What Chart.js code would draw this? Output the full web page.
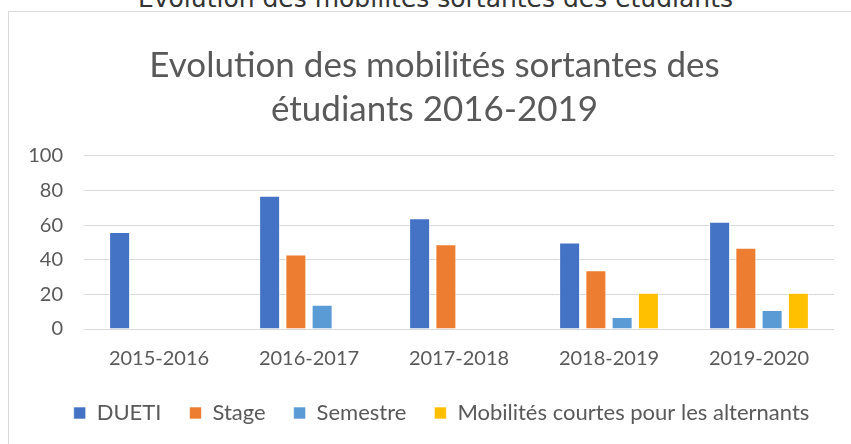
<!DOCTYPE html>
<html>
<head>
<meta charset="utf-8">
<script src="https://cdn.jsdelivr.net/npm/chart.js@4.4.1/dist/chart.umd.min.js"></script>
<style>
    html, body { margin: 0; padding: 0; background: #fff; overflow: hidden; }
    #wrap { position: relative; width: 851px; height: 444px; }
    #frame { position: absolute; left: 8px; top: 11px; width: 860px; height: 460px; border: 1px solid #d9d9d9; box-sizing: border-box; }
    #caption { position: absolute; left: 10px; width: 851px; top: -14px; text-align: center; font-family: 'DejaVu Sans'; font-size: 25px; line-height: 26px; color: #333; white-space: nowrap; }
    canvas { position: absolute; left: 0; top: 0; }
</style>
</head>
<body>
<div id="wrap">
    <div id="caption">Evolution des mobilités sortantes des étudiants</div>
    <div id="frame"></div>
    <canvas id="chart" width="851" height="444"></canvas>
</div>
<script>
const years = ['2015-2016', '2016-2017', '2017-2018', '2018-2019', '2019-2020'];
const dueti = [56, 77, 64, 50, 62];
const stage = [null, 43, 49, 34, 47];
const semestre = [null, 14, null, 7, 11];
const courtes = [null, null, null, 21, 21];
const yTicks = [0, 20, 40, 60, 80, 100];

const textColor = '#595959';
const fontFamily = 'Lato';

const bar = (label, data, color) => ({
    label, data,
    backgroundColor: color,
    borderColor: 'rgba(255,255,255,0.6)',
    borderWidth: 1,
    categoryPercentage: 0.7,
    barPercentage: 0.8,
});

// the title and legend are centred on the whole frame, not on the plot,
// and the legend sits closer to the axis labels than its padding allows
const nudgeBoxes = {
    id: 'nudgeBoxes',
    afterLayout(chart) {
        const t = chart.titleBlock;
        if (t) { t.left += 17.5; t.right += 17.5; }
        const l = chart.legend;
        if (l) {
            l.top -= 15; l.bottom -= 15;
            l.left += 24.5; l.right += 24.5;
        }
    }
};

new Chart(document.getElementById('chart'), {
    type: 'bar',
    data: {
        labels: years,
        datasets: [
            bar('DUETI', dueti, '#4472C4'),
            bar('Stage', stage, '#ED7D31'),
            bar('Semestre', semestre, '#5B9BD5'),
            bar('Mobilités courtes pour les alternants', courtes, '#FFC000'),
        ]
    },
    plugins: [nudgeBoxes],
    options: {
        responsive: false,
        animation: false,
        layout: { padding: { left: 0, right: 17, top: 0, bottom: -5 } },
        plugins: {
            title: {
                display: true,
                text: ['Evolution des mobilités sortantes des', 'étudiants 2016-2019'],
                color: textColor,
                font: { family: fontFamily, size: 35, weight: 'normal', lineHeight: 1.257 },
                padding: { top: 44, bottom: 24 }
            },
            legend: {
                position: 'bottom',
                labels: {
                    color: textColor,
                    font: { family: fontFamily, size: 22 },
                    boxWidth: 12,
                    boxHeight: 12,
                    padding: 28
                }
            },
            tooltip: { enabled: false }
        },
        scales: {
            x: {
                grid: { display: false, drawTicks: false },
                border: { display: false },
                ticks: { color: textColor, font: { family: fontFamily, size: 20 }, padding: 18 }
            },
            y: {
                min: 0, max: 100,
                afterBuildTicks: s => { s.ticks = yTicks.map(v => ({ value: v })); },
                afterFit: s => { s.width = 84; },
                grid: { color: '#d9d9d9', drawTicks: false, lineWidth: 1 },
                border: { display: false },
                ticks: { color: textColor, font: { family: fontFamily, size: 20 }, padding: 21 }
            }
        }
    }
});
</script>
</body>
</html>
